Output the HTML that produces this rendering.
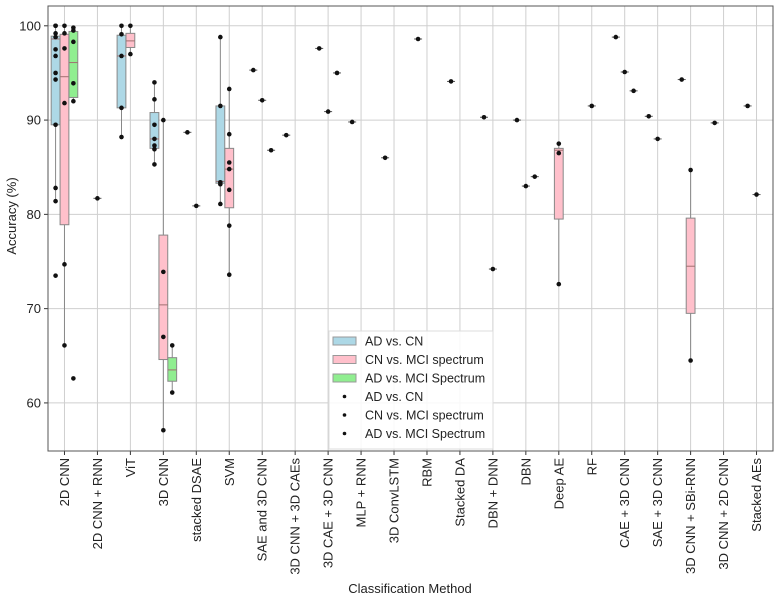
<!DOCTYPE html>
<html><head><meta charset="utf-8"><style>
html,body{margin:0;padding:0;background:#fff}
svg{display:block;font-family:"Liberation Sans","DejaVu Sans",sans-serif}
</style></head><body>
<svg id="chart" width="778" height="600" viewBox="0 0 778 600" xmlns="http://www.w3.org/2000/svg">
<g id="grid"></g>
<g id="marks"></g>
<g id="axes"></g>
<text x="410" y="593" font-size="13" text-anchor="middle" fill="#222">Classification Method</text>
<text transform="translate(16,216) rotate(-90)" font-size="13" text-anchor="middle" fill="#222">Accuracy (%)</text>
<g id="legend"></g>
</svg>
<script>
const categories = ["2D CNN","2D CNN + RNN","ViT","3D CNN","stacked DSAE","SVM","SAE and 3D CNN","3D CNN + 3D CAEs","3D CAE + 3D CNN","MLP + RNN","3D ConvLSTM","RBM","Stacked DA","DBN + DNN","DBN","Deep AE","RF","CAE + 3D CNN","SAE + 3D CNN","3D CNN + SBi-RNN","3D CNN + 2D CNN","Stacked AEs"];
const yTicks = [60,70,80,90,100];
const seriesNames = ["AD vs. CN","CN vs. MCI spectrum","AD vs. MCI Spectrum"];
// box stats: [categoryIndex, whiskerLow, q1, median, q3, whiskerHigh]
const boxesADvsCN = [[0,81.4,89.5,98.6,98.9,100],[2,88.2,91.3,96.8,99.0,100],[3,85.3,87.0,88.0,90.8,94.0],[5,81.1,83.3,83.5,91.5,98.8]];
const boxesCNvsMCI = [[0,66.1,78.9,94.6,99.1,100],[2,97.0,97.7,98.4,99.2,100],[3,57.1,64.6,70.4,77.8,90.0],[5,73.6,80.7,84.8,87.0,93.3],[15,72.6,79.5,86.8,87.0,87.5],[19,64.5,69.5,74.5,79.6,84.7]];
const boxesADvsMCI = [[0,92.0,92.4,96.1,99.4,99.8],[3,61.1,62.3,63.5,64.8,66.1]];
// points: [categoryIndex, value]
const ptsADvsCN = [[0,100],[0,100],[0,99.2],[0,98.8],[0,97.5],[0,96.8],[0,95.0],[0,94.3],[0,89.5],[0,82.8],[0,81.4],[0,73.5],[2,100],[2,99.1],[2,96.8],[2,91.3],[2,88.2],[3,94.0],[3,92.2],[3,89.5],[3,88.0],[3,87.3],[3,86.9],[3,85.3],[4,88.7],[5,98.8],[5,91.5],[5,83.4],[5,83.2],[5,81.1],[6,95.3],[7,88.4],[8,97.6],[9,89.8],[10,86.0],[11,98.6],[12,94.1],[13,90.3],[14,90.0],[17,98.8],[18,90.4],[19,94.3],[20,89.7],[21,91.5]];
const ptsCNvsMCI = [[0,100],[0,99.2],[0,97.6],[0,91.8],[0,74.7],[0,66.1],[1,81.7],[2,100],[2,97.0],[3,90.0],[3,73.9],[3,67.0],[3,57.1],[4,80.9],[5,93.3],[5,88.5],[5,85.5],[5,84.8],[5,82.6],[5,78.8],[5,73.6],[6,92.1],[8,90.9],[13,74.2],[14,83.0],[15,87.5],[15,86.5],[15,72.6],[16,91.5],[17,95.1],[18,88.0],[19,84.7],[19,64.5],[21,82.1]];
const ptsADvsMCI = [[0,99.8],[0,99.5],[0,98.3],[0,93.9],[0,92.0],[0,62.6],[3,66.1],[3,61.1],[6,86.8],[8,95.0],[14,84.0],[17,93.1]];

const NS="http://www.w3.org/2000/svg";
const L=48,R=773,T=6,B=451,YMIN=54.9,YMAX=102.1;
const step=(R-L)/categories.length;
const catX=i=>L+step*(i+0.5);
const y=v=>B-(v-YMIN)/(YMAX-YMIN)*(B-T);
const off=[-8.9,0,8.9], bw=8.8;
const colors=["#add8e6","#ffc0cb","#90ee90"];
function mk(tag,attrs,parent){const e=document.createElementNS(NS,tag);for(const k in attrs)e.setAttribute(k,attrs[k]);parent.appendChild(e);return e;}
const grid=document.getElementById('grid'),marks=document.getElementById('marks'),axes=document.getElementById('axes'),legend=document.getElementById('legend');
categories.forEach((c,i)=>{
  const g=mk('line',{x1:catX(i),x2:catX(i),y1:T,y2:B,stroke:'#cfcfcf','stroke-width':1},grid);
  
  
  const tk=mk('line',{x1:catX(i),x2:catX(i),y1:B,y2:B+4,stroke:'#333'},axes);
  
  
  const t=mk('text',{transform:`translate(${catX(i)+4.5},${B+7}) rotate(-90)`,'font-size':13,'text-anchor':'end',fill:'#222'},axes);
  t.textContent=c;
  
  
});
yTicks.forEach(v=>{
  const g=mk('line',{x1:L,x2:R,y1:y(v),y2:y(v),stroke:'#cfcfcf'},grid);
  
  
  const tk=mk('line',{x1:L-4,x2:L,y1:y(v),y2:y(v),stroke:'#333'},axes);
  
  
  const t=mk('text',{x:L-7,y:y(v)+4.5,'font-size':13,'text-anchor':'end',fill:'#222'},axes);
  t.textContent=v;
  
  
});
const frame=mk('rect',{x:L,y:T,width:R-L,height:B-T,fill:'none',stroke:'#555','stroke-width':1},axes);



[boxesADvsCN,boxesCNvsMCI,boxesADvsMCI].forEach((arr,h)=>{
  arr.forEach(b=>{
    const cx=catX(b[0])+off[h];
    const w=mk('line',{x1:cx,x2:cx,y1:y(b[1]),y2:y(b[5]),stroke:'#888','stroke-width':1},marks);
    
    
    const r=mk('rect',{x:cx-bw/2,y:y(b[4]),width:bw,height:y(b[2])-y(b[4]),fill:colors[h],stroke:'#888'},marks);
    
    
    const m=mk('line',{x1:cx-bw/2,x2:cx+bw/2,y1:y(b[3]),y2:y(b[3]),stroke:'#a07070'},marks);
    
    
  });
});
const boxed=[boxesADvsCN,boxesCNvsMCI,boxesADvsMCI].map(a=>new Set(a.map(b=>b[0])));
[ptsADvsCN,ptsCNvsMCI,ptsADvsMCI].forEach((arr,h)=>{
  arr.forEach(p=>{
    const cx=catX(p[0])+off[h];
    if(!boxed[h].has(p[0])){
      const l=mk('line',{x1:cx-4,x2:cx+4,y1:y(p[1]),y2:y(p[1]),stroke:'#555'},marks);
      
      
    }
    const c=mk('circle',{cx:cx,cy:y(p[1]),r:2.3,fill:'#111'},marks);
    
    
  });
});
// legend
const lg=mk('rect',{x:329,y:331,width:164,height:118,fill:'#fff','fill-opacity':0.85,stroke:'#ddd'},legend);


seriesNames.concat(seriesNames).forEach((n,i)=>{
  const yy=341+i*18.5;
  if(i<3){
    const p=mk('rect',{x:333,y:yy-4,width:23,height:8,fill:colors[i],stroke:'#999'},legend);
    
    
  } else {
    const d=mk('circle',{cx:344.5,cy:yy,r:1.8,fill:'#111'},legend);
    
    
  }
  const t=mk('text',{x:365,y:yy+4.5,'font-size':12.5,fill:'#222'},legend);
  t.textContent=n;
  
  
});
</script>
</body></html>
